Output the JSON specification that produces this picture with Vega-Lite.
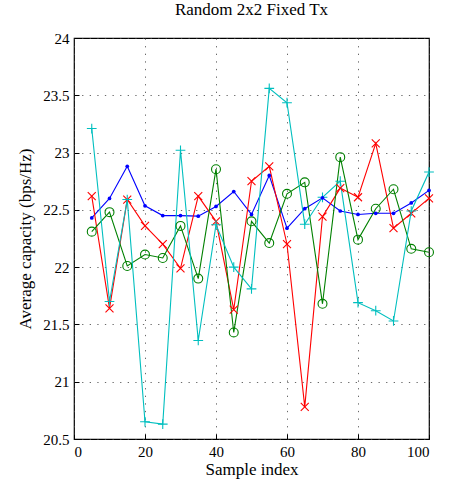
{
  "$schema": "https://vega.github.io/schema/vega-lite/v6.json",
  "width": 355,
  "height": 401,
  "autosize": {"type": "none"},
  "padding": {"left": 74, "top": 38, "right": 22, "bottom": 46},
  "background": "white",
  "title": {"text": "Random 2x2 Fixed Tx", "font": "Liberation Serif", "fontSize": 17, "fontWeight": "normal", "color": "black", "offset": 12, "anchor": "middle"},
  "config": {
    "font": "Liberation Serif",
    "view": {"stroke": "black", "strokeWidth": 1.2},
    "axis": {
      "labelFont": "Liberation Serif", "labelFontSize": 15, "labelColor": "black",
      "titleFont": "Liberation Serif", "titleFontSize": 17, "titleFontWeight": "normal", "titleColor": "black",
      "domain": false, "tickColor": "black", "tickSize": -5, "tickWidth": 1,
      "gridColor": "#444", "gridDash": [1.3, 6.3], "gridWidth": 1, "gridOpacity": 0.8
    }
  },
  "data": {"values": [
    {"x": 5, "y": 22.43, "s": "blue"}, {"x": 10, "y": 22.60, "s": "blue"}, {"x": 15, "y": 22.88, "s": "blue"}, {"x": 20, "y": 22.535, "s": "blue"},
    {"x": 25, "y": 22.45, "s": "blue"}, {"x": 30, "y": 22.45, "s": "blue"}, {"x": 35, "y": 22.445, "s": "blue"}, {"x": 40, "y": 22.53, "s": "blue"},
    {"x": 45, "y": 22.66, "s": "blue"}, {"x": 50, "y": 22.46, "s": "blue"}, {"x": 55, "y": 22.80, "s": "blue"}, {"x": 60, "y": 22.34, "s": "blue"},
    {"x": 65, "y": 22.51, "s": "blue"}, {"x": 70, "y": 22.605, "s": "blue"}, {"x": 75, "y": 22.49, "s": "blue"}, {"x": 80, "y": 22.46, "s": "blue"},
    {"x": 85, "y": 22.47, "s": "blue"}, {"x": 90, "y": 22.47, "s": "blue"}, {"x": 95, "y": 22.56, "s": "blue"}, {"x": 100, "y": 22.67, "s": "blue"},
    {"x": 5, "y": 22.62, "s": "red"}, {"x": 10, "y": 21.64, "s": "red"}, {"x": 15, "y": 22.59, "s": "red"}, {"x": 20, "y": 22.36, "s": "red"},
    {"x": 25, "y": 22.20, "s": "red"}, {"x": 30, "y": 21.99, "s": "red"}, {"x": 35, "y": 22.62, "s": "red"}, {"x": 40, "y": 22.40, "s": "red"},
    {"x": 45, "y": 21.63, "s": "red"}, {"x": 50, "y": 22.75, "s": "red"}, {"x": 55, "y": 22.88, "s": "red"}, {"x": 60, "y": 22.20, "s": "red"},
    {"x": 65, "y": 20.78, "s": "red"}, {"x": 70, "y": 22.44, "s": "red"}, {"x": 75, "y": 22.69, "s": "red"}, {"x": 80, "y": 22.61, "s": "red"},
    {"x": 85, "y": 23.08, "s": "red"}, {"x": 90, "y": 22.34, "s": "red"}, {"x": 95, "y": 22.47, "s": "red"}, {"x": 100, "y": 22.60, "s": "red"},
    {"x": 5, "y": 22.31, "s": "green"}, {"x": 10, "y": 22.48, "s": "green"}, {"x": 15, "y": 22.01, "s": "green"}, {"x": 20, "y": 22.11, "s": "green"},
    {"x": 25, "y": 22.08, "s": "green"}, {"x": 30, "y": 22.36, "s": "green"}, {"x": 35, "y": 21.90, "s": "green"}, {"x": 40, "y": 22.855, "s": "green"},
    {"x": 45, "y": 21.43, "s": "green"}, {"x": 50, "y": 22.40, "s": "green"}, {"x": 55, "y": 22.21, "s": "green"}, {"x": 60, "y": 22.64, "s": "green"},
    {"x": 65, "y": 22.74, "s": "green"}, {"x": 70, "y": 21.68, "s": "green"}, {"x": 75, "y": 22.96, "s": "green"}, {"x": 80, "y": 22.24, "s": "green"},
    {"x": 85, "y": 22.51, "s": "green"}, {"x": 90, "y": 22.68, "s": "green"}, {"x": 95, "y": 22.16, "s": "green"}, {"x": 100, "y": 22.13, "s": "green"},
    {"x": 5, "y": 23.21, "s": "cyan"}, {"x": 10, "y": 21.70, "s": "cyan"}, {"x": 15, "y": 22.59, "s": "cyan"}, {"x": 20, "y": 20.65, "s": "cyan"},
    {"x": 25, "y": 20.63, "s": "cyan"}, {"x": 30, "y": 23.02, "s": "cyan"}, {"x": 35, "y": 21.36, "s": "cyan"}, {"x": 40, "y": 22.37, "s": "cyan"},
    {"x": 45, "y": 22.00, "s": "cyan"}, {"x": 50, "y": 21.81, "s": "cyan"}, {"x": 55, "y": 23.56, "s": "cyan"}, {"x": 60, "y": 23.435, "s": "cyan"},
    {"x": 65, "y": 22.375, "s": "cyan"}, {"x": 70, "y": 22.61, "s": "cyan"}, {"x": 75, "y": 22.75, "s": "cyan"}, {"x": 80, "y": 21.69, "s": "cyan"},
    {"x": 85, "y": 21.62, "s": "cyan"}, {"x": 90, "y": 21.53, "s": "cyan"}, {"x": 95, "y": 22.49, "s": "cyan"}, {"x": 100, "y": 22.83, "s": "cyan"}
  ]},
  "encoding": {
    "x": {"field": "x", "type": "quantitative", "scale": {"domain": [0, 100], "nice": false, "zero": false},
          "axis": {"values": [0, 20, 40, 60, 80, 100], "title": "Sample index", "labelFont": "Liberation Serif", "labelFontSize": 15, "labelPadding": 10, "titlePadding": 2, "grid": true}},
    "y": {"field": "y", "type": "quantitative", "scale": {"domain": [20.5, 24], "nice": false, "zero": false},
          "axis": {"values": [20.5, 21, 21.5, 22, 22.5, 23, 23.5, 24], "format": "~g", "title": "Average capacity (bps/Hz)", "labelFont": "Liberation Serif", "labelFontSize": 15, "labelPadding": 10, "titlePadding": 8, "grid": true}},
    "color": {"field": "s", "type": "nominal", "legend": null,
              "scale": {"domain": ["blue", "red", "green", "cyan"], "range": ["#0000ff", "#ff0000", "#008000", "#00bfbf"]}}
  },
  "layer": [
    {"mark": {"type": "line", "strokeWidth": 1.1, "clip": true}},
    {"transform": [{"filter": "datum.s !== 'blue'"}],
     "mark": {"type": "point", "filled": false, "strokeWidth": 1.1, "opacity": 1},
     "encoding": {
       "shape": {"field": "s", "type": "nominal", "legend": null,
                 "scale": {"domain": ["red", "green", "cyan"], "range": ["M-1,-1L1,1M-1,1L1,-1", "circle", "M-1,0L1,0M0,-1L0,1"]}},
       "size": {"field": "s", "type": "nominal", "legend": null,
                "scale": {"domain": ["red", "green", "cyan"], "range": [64, 95, 150]}}
     }},
    {"transform": [{"filter": "datum.s === 'blue'"}],
     "mark": {"type": "point", "filled": true, "shape": "circle", "size": 14, "opacity": 1}}
  ]
}
